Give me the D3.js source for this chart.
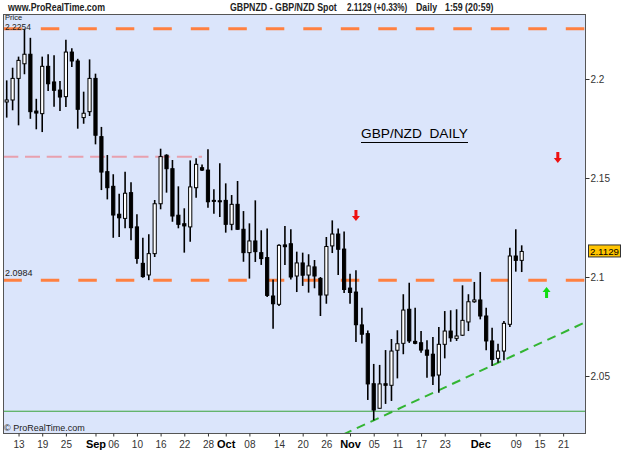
<!DOCTYPE html>
<html>
<head>
<meta charset="utf-8">
<script src="https://cdn.jsdelivr.net/npm/d3@7"></script>
<style>
  body { margin: 0; background: #fff; }
  text { font-family: "Liberation Sans", Arial, sans-serif; }
</style>
</head>
<body>
<svg id="chart" width="625" height="469"></svg>
<script>
// Daily candles, one entry per trading day
const opens = [2.1884,2.1894,2.2003,2.2077,2.2125,2.1838,2.1825,2.2064,2.1985,2.1944,
  2.1911,2.2136,2.2091,2.1805,2.1835,2.2003,2.1709,2.1532,2.1458,2.1317,
  2.1296,2.1426,2.1253,2.1069,2.1010,2.1118,2.1370,2.1615,2.1547,2.1312,
  2.1269,2.1253,2.1451,2.1552,2.1540,2.1387,2.1385,2.1387,2.1266,2.1367,
  2.1241,2.1123,2.1182,2.1123,2.1098,2.0904,2.0862,2.1162,2.1168,2.1005,
  2.1071,2.1010,2.1051,2.0993,2.0909,2.1157,2.1217,2.1141,2.0944,2.0924,
  2.0758,2.0714,2.0461,2.0337,2.0461,2.0453,2.0630,2.0665,2.0837,2.0675,
  2.0668,2.0631,2.0610,2.0505,2.0660,2.0727,2.0690,2.0706,2.0773,2.0875,
  2.0884,2.0803,2.0677,2.0589,2.0626,2.0761,2.1106,2.1084]
const highs = [2.1993,2.2057,2.2113,2.2254,2.2208,2.1900,2.2113,2.2125,2.2120,2.1990,
  2.2198,2.2155,2.2102,2.1936,2.2099,2.2027,2.1758,2.1616,2.1519,2.1421,
  2.1532,2.1478,2.1317,2.1198,2.1216,2.1389,2.1648,2.1620,2.1591,2.1458,
  2.1347,2.1589,2.1600,2.1568,2.1645,2.1443,2.1574,2.1473,2.1414,2.1485,
  2.1333,2.1271,2.1387,2.1236,2.1245,2.0988,2.1165,2.1258,2.1241,2.1128,
  2.1123,2.1115,2.1086,2.1000,2.1202,2.1286,2.1245,2.1230,2.1017,2.1034,
  2.0845,2.0730,2.0561,2.0556,2.0631,2.0687,2.0731,2.0913,2.0971,2.0845,
  2.0727,2.0680,2.0697,2.0747,2.0828,2.0832,2.0837,2.0958,2.0913,2.0975,
  2.1025,2.0845,2.0744,2.0663,2.0778,2.1148,2.1241,2.1160]
const lows = [2.1805,2.1842,2.1766,2.2024,2.1799,2.1746,2.1732,2.1939,2.1860,2.1838,
  2.1859,2.2061,2.1749,2.1774,2.1813,2.1670,2.1439,2.1392,2.1198,2.1202,
  2.1246,2.1185,2.1067,2.0996,2.0984,2.1101,2.1342,2.1426,2.1279,2.1246,
  2.1123,2.1178,2.1400,2.1535,2.1350,2.1320,2.1303,2.1224,2.1236,2.1238,
  2.1077,2.0992,2.1076,2.1061,2.0899,2.0739,2.0854,2.1061,2.0988,2.0924,
  2.0955,2.0921,2.0943,2.0803,2.0865,2.1121,2.1010,2.0919,2.0865,2.0672,
  2.0664,2.0379,2.0276,2.0335,2.0359,2.0374,2.0488,2.0610,2.0667,2.0660,
  2.0618,2.0491,2.0455,2.0416,2.0589,2.0673,2.0677,2.0702,2.0727,2.0870,
  2.0786,2.0630,2.0551,2.0567,2.0579,2.0747,2.1027,2.1025]
const closes = [2.1894,2.2003,2.2094,2.2125,2.1835,2.1828,2.2064,2.1976,2.1943,2.1909,
  2.2136,2.2091,2.1847,2.1827,2.2003,2.1716,2.1530,2.1451,2.1313,2.1299,
  2.1423,2.1249,2.1094,2.1002,2.1118,2.1370,2.1608,2.1547,2.1308,2.1266,
  2.1258,2.1455,2.1569,2.1540,2.1380,2.1382,2.1382,2.1266,2.1367,2.1241,
  2.1123,2.1182,2.1128,2.1093,2.0907,2.0865,2.1160,2.1153,2.1000,2.1071,
  2.1009,2.1056,2.1005,2.0909,2.1154,2.1217,2.1140,2.0937,2.0922,2.0759,
  2.0711,2.0460,2.0328,2.0460,2.0453,2.0626,2.0663,2.0833,2.0677,2.0665,
  2.0631,2.0605,2.0500,2.0660,2.0727,2.0693,2.0702,2.0781,2.0875,2.0884,
  2.0803,2.0677,2.0584,2.0626,2.0766,2.1106,2.1084,2.1129]

// Date axis (candle index of each label)
const tickIndex = [2,6,10,15,18,22,26,30,34,37,41,46,50,54,58,62,66,70,74,80,86,90,94]
const tickLabels = ["13","19","25","Sep","06","10","16","22","28","Oct","08","14","20","26","Nov","05","11","17","23","Dec","09","15","21"]
const months = ["Sep","Oct","Nov","Dec"]

const priceTicks = [2.05, 2.1, 2.15, 2.2]
const lastPrice = 2.1129

// Drawn levels
const orangeLevels = [2.2254, 2.0984]
const pinkLevel = 2.1607
const pinkEndIndex = 33
const supportLevel = 2.0322
const trendIndex = [62, 83]
const trendValue = [2.0276, 2.0567]

// Signal arrows
const arrowIndex = [59, 93.1, 91.2]
const arrowValue = [2.1308, 2.1601, 2.0924]
const arrowDir = ["down", "down", "up"]

const candles = opens.map((o, i) => ({i: i, o: o, h: highs[i], l: lows[i], c: closes[i]}))

const plot = {left: 3, right: 585, top: 14, bottom: 433}

const svg = d3.select("#chart")

const xScale = d3.scaleLinear().domain([0, 87]).range([6.7, 521.7])
const yScale = d3.scaleLinear().domain([2.05, 2.2]).range([376, 79])

// Plot background
svg.append("rect")
  .attr("x", plot.left + 0.5)
  .attr("y", plot.top + 0.5)
  .attr("width", plot.right - plot.left)
  .attr("height", plot.bottom - plot.top)
  .attr("fill", "#dbe5fb")
  .attr("stroke", "#555")

svg.append("clipPath").attr("id", "clip")
  .append("rect")
  .attr("x", plot.left + 1).attr("y", plot.top + 1)
  .attr("width", plot.right - plot.left - 1)
  .attr("height", plot.bottom - plot.top - 1)

const bounds = svg.append("g").attr("clip-path", "url(#clip)")

// Horizontal levels
bounds.selectAll(".orange")
  .data(orangeLevels)
  .join("line")
    .attr("x1", plot.left + 0.3).attr("x2", plot.right)
    .attr("y1", d => yScale(d)).attr("y2", d => yScale(d))
    .attr("stroke", "#ff8040")
    .attr("stroke-width", 3)
    .attr("stroke-dasharray", "18.5,19")

bounds.append("line")
  .attr("x1", plot.left + 0.3).attr("x2", xScale(pinkEndIndex))
  .attr("y1", yScale(pinkLevel)).attr("y2", yScale(pinkLevel))
  .attr("stroke", "#e8a0ae")
  .attr("stroke-width", 2)
  .attr("stroke-dasharray", "15,6.7")

bounds.append("line")
  .attr("x1", plot.left).attr("x2", plot.right)
  .attr("y1", yScale(supportLevel)).attr("y2", yScale(supportLevel))
  .attr("stroke", "#3aa33a")
  .attr("stroke-width", 1)

// Rising trend line through two lows, extended across the plot
const slope = (trendValue[1] - trendValue[0]) / (trendIndex[1] - trendIndex[0])
const trendAt = i => trendValue[0] + (i - trendIndex[0]) * slope
const iStart = xScale.invert(plot.left), iEnd = xScale.invert(plot.right)
bounds.append("line")
  .attr("x1", xScale(iStart)).attr("y1", yScale(trendAt(iStart)))
  .attr("x2", xScale(iEnd)).attr("y2", yScale(trendAt(iEnd)))
  .attr("stroke", "#33b533")
  .attr("stroke-width", 2)
  .attr("stroke-dasharray", "9,6")

// Candles
const candleG = bounds.selectAll(".candle")
  .data(candles)
  .join("g")
    .attr("class", "candle")

candleG.append("line")
  .attr("x1", d => xScale(d.i)).attr("x2", d => xScale(d.i))
  .attr("y1", d => yScale(d.h)).attr("y2", d => yScale(d.l))
  .attr("stroke", "#000")
  .attr("stroke-width", 1.6)

candleG.append("rect")
  .attr("x", d => xScale(d.i) - 1.6)
  .attr("width", 3.2)
  .attr("y", d => yScale(Math.max(d.o, d.c)))
  .attr("height", d => Math.max(1, Math.abs(yScale(d.o) - yScale(d.c))))
  .attr("fill", d => d.c >= d.o ? "#fff" : "#000")
  .attr("stroke", "#000")
  .attr("stroke-width", 1)

// Arrows
const arrowPath = dir => dir === "down"
  ? "M-1.5,-6 L1.5,-6 L1.5,0 L4,0 L0,5 L-4,0 L-1.5,0 Z"
  : "M-1.5,6 L1.5,6 L1.5,0 L4,0 L0,-5 L-4,0 L-1.5,0 Z"

bounds.selectAll(".arrow")
  .data(arrowIndex.map((d, k) => ({i: d, v: arrowValue[k], dir: arrowDir[k]})))
  .join("path")
    .attr("class", "arrow")
    .attr("transform", d => `translate(${xScale(d.i)},${yScale(d.v)})`)
    .attr("d", d => arrowPath(d.dir))
    .attr("fill", d => d.dir === "down" ? "#ee1111" : "#11dd11")

// Title
svg.append("text")
  .text("GBP/NZD  DAILY")
  .attr("x", 361).attr("y", 138)
  .attr("font-size", 13)
  .attr("fill", "#000")
  .style("white-space", "pre")
  .attr("textLength", 107)
  .attr("lengthAdjust", "spacingAndGlyphs")

svg.append("line")
  .attr("x1", 361).attr("x2", 468)
  .attr("y1", 142.5).attr("y2", 142.5)
  .attr("stroke", "#000")

// Small in-plot labels
const small = [
  {t: "Price", x: 5, y: 20, s: 7.5},
  {t: String(orangeLevels[0]), x: 5, y: 30, s: 8.5},
  {t: String(orangeLevels[1]), x: 5, y: yScale(orangeLevels[1]) - 4, s: 9},
  {t: "\u00a9 ProRealTime.com", x: 4, y: 431, s: 9}
]
svg.selectAll(".small")
  .data(small)
  .join("text")
    .attr("x", d => d.x).attr("y", d => d.y)
    .text(d => d.t)
    .attr("font-size", d => d.s)
    .attr("fill", "#222")

// Right price axis
const yAxis = svg.append("g")
  .attr("transform", `translate(${plot.right + 0.5},0)`)
  .call(d3.axisRight(yScale).tickValues(priceTicks).tickSize(4).tickPadding(1).tickFormat(d3.format("")))
yAxis.select(".domain").remove()
yAxis.selectAll("line").attr("stroke", "#333")
yAxis.selectAll("text")
  .attr("font-size", 10)
  .attr("font-family", "Liberation Sans, Arial, sans-serif")
  .attr("fill", "#333")

// Last price box
svg.append("rect")
  .attr("x", 588.5).attr("y", yScale(lastPrice) - 6.5)
  .attr("width", 32).attr("height", 12)
  .attr("fill", "#ffc400")
  .attr("stroke", "#333")
svg.append("text")
  .text(String(lastPrice))
  .attr("x", 590).attr("y", yScale(lastPrice) + 3.5)
  .attr("font-size", 9.5)
  .attr("fill", "#000")
  .attr("textLength", 29).attr("lengthAdjust", "spacingAndGlyphs")

// Bottom date axis
const isMonth = d => months.includes(tickLabels[tickIndex.indexOf(d)])
const xAxis = svg.append("g")
  .attr("transform", `translate(0,${plot.bottom + 0.5})`)
  .call(d3.axisBottom(xScale).tickValues(tickIndex).tickSize(3).tickPadding(4)
    .tickFormat((d, k) => tickLabels[k]))
xAxis.select(".domain").remove()
xAxis.selectAll("line").attr("stroke", "#333")
xAxis.selectAll("text")
  .attr("font-family", "Liberation Sans, Arial, sans-serif")
  .attr("font-size", d => isMonth(d) ? 11 : 10)
  .attr("font-weight", d => isMonth(d) ? "bold" : "normal")
  .attr("fill", d => isMonth(d) ? "#000" : "#333")

// Header (bold, horizontally condensed)
const header = [
  {t: "www.ProRealTime.com", x: 8, sx: 0.84},
  {t: "GBPNZD - GBP/NZD Spot", x: 230, sx: 0.84},
  {t: "2.1129 (+0.33%)", x: 347, sx: 0.78},
  {t: "Daily", x: 416, sx: 0.84},
  {t: "1:59 (20:59)", x: 445, sx: 0.84}
]
svg.selectAll(".header")
  .data(header)
  .join("text")
    .attr("transform", d => `translate(${d.x},11) scale(${d.sx},1)`)
    .text(d => d.t)
    .attr("font-size", 10.5).attr("font-weight", "bold")
    .attr("fill", "#222")
</script>
</body>
</html>
